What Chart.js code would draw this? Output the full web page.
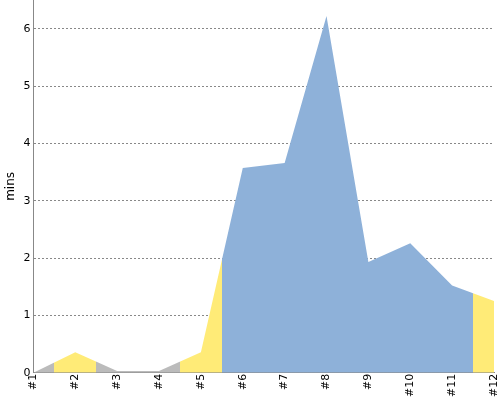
<!DOCTYPE html>
<html>
<head>
<meta charset="utf-8">
<script src="https://cdn.jsdelivr.net/npm/chart.js@4"></script>
<style>
  html, body { margin: 0; padding: 0; background: #fff; }
  #wrap { width: 500px; height: 400px; }
</style>
</head>
<body>
<div id="wrap"><canvas id="myChart" width="500" height="400"></canvas></div>
<script>
// chart data
var labels = ["#1", "#2", "#3", "#4", "#5", "#6", "#7", "#8", "#9", "#10", "#11", "#12"];
var minutes = [0, 0.36, 0.03, 0.03, 0.36, 3.57, 3.66, 6.22, 1.93, 2.26, 1.52, 1.25];
// colour group of each session
var groups = ["grey", "yellow", "grey", "grey", "yellow", "blue", "blue", "blue", "blue", "blue", "blue", "yellow"];
var yTicks = [0, 1, 2, 3, 4, 5, 6];

var palette = {
	grey: "#bbbbbb",
	yellow: "#ffeb77",
	blue: "#8eb1d9"
};

// builds a hard-stop gradient so each session's column gets its own colour
function areaFill(context) {
	var chart = context.chart;
	var area = chart.chartArea;
	var x = chart.scales.x;
	if (!area || !x) return palette.blue;
	var g = chart.ctx.createLinearGradient(area.left, 0, area.right, 0);
	var w = area.right - area.left;
	for (var i = 0; i < labels.length; i++) {
		var px = x.getPixelForValue(i);
		var start = i > 0 ? (px + x.getPixelForValue(i - 1)) / 2 : area.left;
		var end = i < labels.length - 1 ? (px + x.getPixelForValue(i + 1)) / 2 : area.right;
		var c = palette[groups[i]];
		g.addColorStop(Math.max(0, Math.min(1, (start - area.left) / w)), c);
		g.addColorStop(Math.max(0, Math.min(1, (end - area.left) / w)), c);
	}
	return g;
}

Chart.defaults.font.family = "'DejaVu Sans', sans-serif";
Chart.defaults.color = "#000";

var ctx = document.getElementById("myChart");
var myChart = new Chart(ctx, {
	type: "line",
	data: {
		labels: labels,
		datasets: [
			{
				data: minutes,
				fill: "origin",
				backgroundColor: areaFill,
				borderWidth: 0,
				borderColor: "rgba(0,0,0,0)",
				pointRadius: 0,
				tension: 0
			}
		]
	},
	options: {
		responsive: false,
		animation: false,
		layout: { padding: { top: 0, right: 0, left: 0, bottom: 2 } },
		plugins: {
			legend: { display: false },
			tooltip: { enabled: false }
		},
		scales: {
			x: {
				offset: false,
				grid: { display: false, drawTicks: false },
				border: { display: true, color: "#888", width: 1 },
				ticks: {
					minRotation: 90,
					maxRotation: 90,
					autoSkip: false,
					padding: 1,
					font: { size: 11 }
				},
				afterFit: function(scale) {
					scale.paddingLeft = 0;
					scale.paddingRight = 6;
				}
			},
			y: {
				min: 0,
				max: 6.5,
				afterBuildTicks: function(scale) {
					scale.ticks = yTicks.map(function(v) { return { value: v }; });
				},
				grid: { color: "#888", drawTicks: false },
				border: { display: true, color: "#888", width: 1, dash: [2, 2] },
				ticks: {
					padding: 3,
					font: { size: 11 }
				},
				title: {
					display: true,
					text: "mins",
					font: { size: 12 },
					padding: { top: 4, bottom: 2 }
				},
				afterFit: function(scale) {
					scale.paddingTop = 0;
					scale.paddingBottom = 0;
				}
			}
		}
	}
});
</script>
</body>
</html>
